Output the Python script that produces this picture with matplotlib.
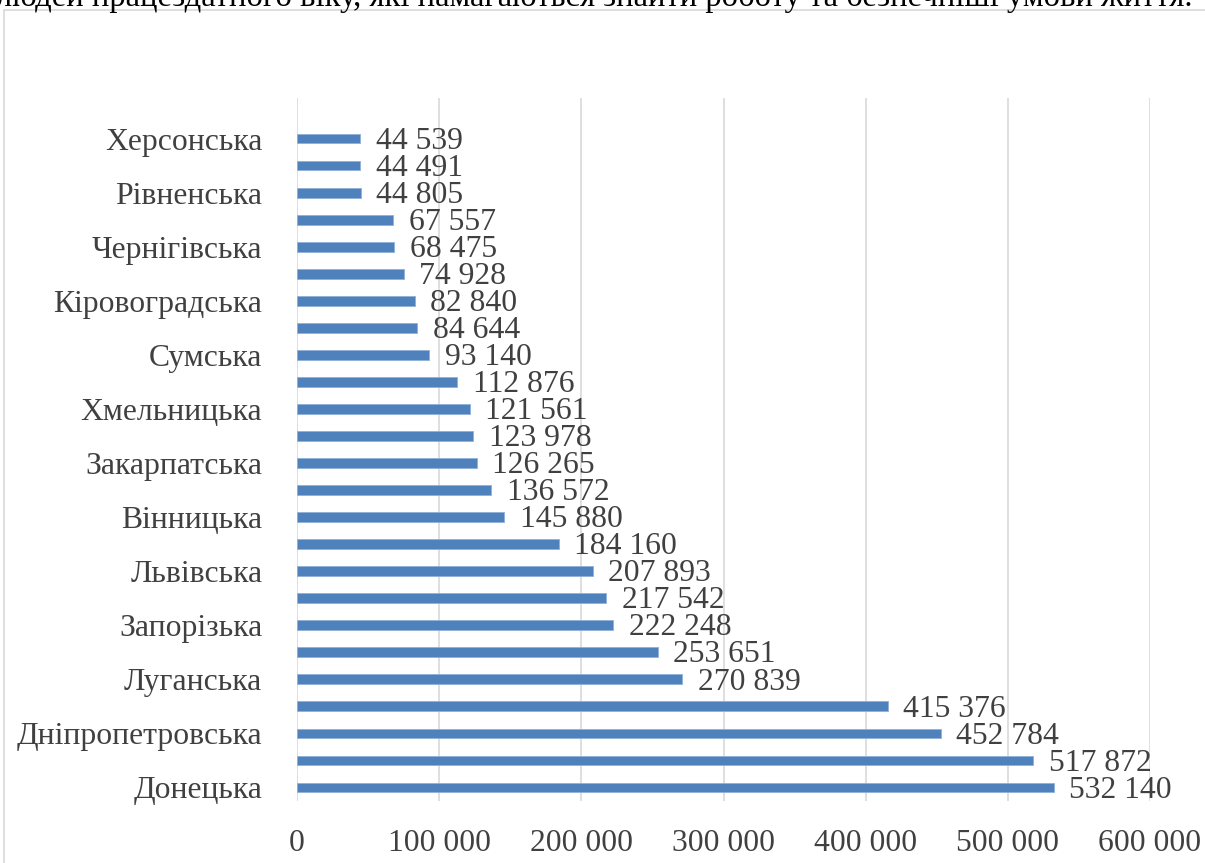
import matplotlib.pyplot as plt
from matplotlib.patches import Rectangle

# regions, bottom to top (only every other name is shown on the axis)
regions = ['Донецька', 'Харківська', 'Дніпропетровська', 'м. Київ', 'Луганська',
           'Київська', 'Запорізька', 'Одеська', 'Львівська', 'Полтавська',
           'Вінницька', 'Черкаська', 'Закарпатська', 'Івано-Франківська',
           'Хмельницька', 'Житомирська', 'Сумська', 'Миколаївська',
           'Кіровоградська', 'Волинська', 'Чернігівська', 'Тернопільська',
           'Рівненська', 'Чернівецька', 'Херсонська']
values = [532140, 517872, 452784, 415376, 270839, 253651, 222248, 217542,
          207893, 184160, 145880, 136572, 126265, 123978, 121561, 112876,
          93140, 84644, 82840, 74928, 68475, 67557, 44805, 44491, 44539]
x_ticks = [0, 100000, 200000, 300000, 400000, 500000, 600000]

caption = 'людей працездатного віку, які намагаються знайти роботу та безпечніші умови життя.'

def fmt(v):
    return f'{v:,}'.replace(',', ' ')

plt.rcParams['font.family'] = ['Liberation Serif', 'DejaVu Serif']
txt_color = '#404040'
fs = 22.8

fig = plt.figure(figsize=(12.05, 8.63), dpi=100)

# chart frame (partly outside the picture)
fig.patches.append(Rectangle((4 / 1205, -0.1), 1.2, 1 - 10 / 863 + 0.1,
                             transform=fig.transFigure, fill=False,
                             edgecolor='#d9d9d9', lw=1.2))

# cut-off line of text above the chart
fig.text(-4 / 1205, 1 + 3 / 863, caption, fontsize=23.5, va='center', ha='left', color='black')

ax = fig.add_axes([297 / 1205, 62 / 863, 853 / 1205, 703 / 863])
pos = list(range(len(values)))
ax.barh(pos, values, height=0.36, color='#4F81BD', edgecolor='#8fb0d8', lw=0.6, zorder=3)

for p, v in zip(pos, values):
    ax.text(v + 11000, p - 0.1, fmt(v), va='center', ha='left', fontsize=fs, color=txt_color)

ax.set_ylim(-0.5, len(values) + 0.5)
ax.set_xlim(0, 600000)
ax.set_xticks(x_ticks)
ax.set_xticklabels([fmt(t) for t in x_ticks])
ax.set_yticks(pos[::2])
ax.set_yticklabels(regions[::2])
ax.tick_params(axis='both', length=0, labelsize=fs, labelcolor=txt_color)
ax.tick_params(axis='x', pad=20)
ax.tick_params(axis='y', pad=25)
ax.grid(axis='x', color='#d9d9d9', lw=1.2, zorder=0)
for s in ax.spines.values():
    s.set_visible(False)

fig.savefig('out.png', dpi=100)
